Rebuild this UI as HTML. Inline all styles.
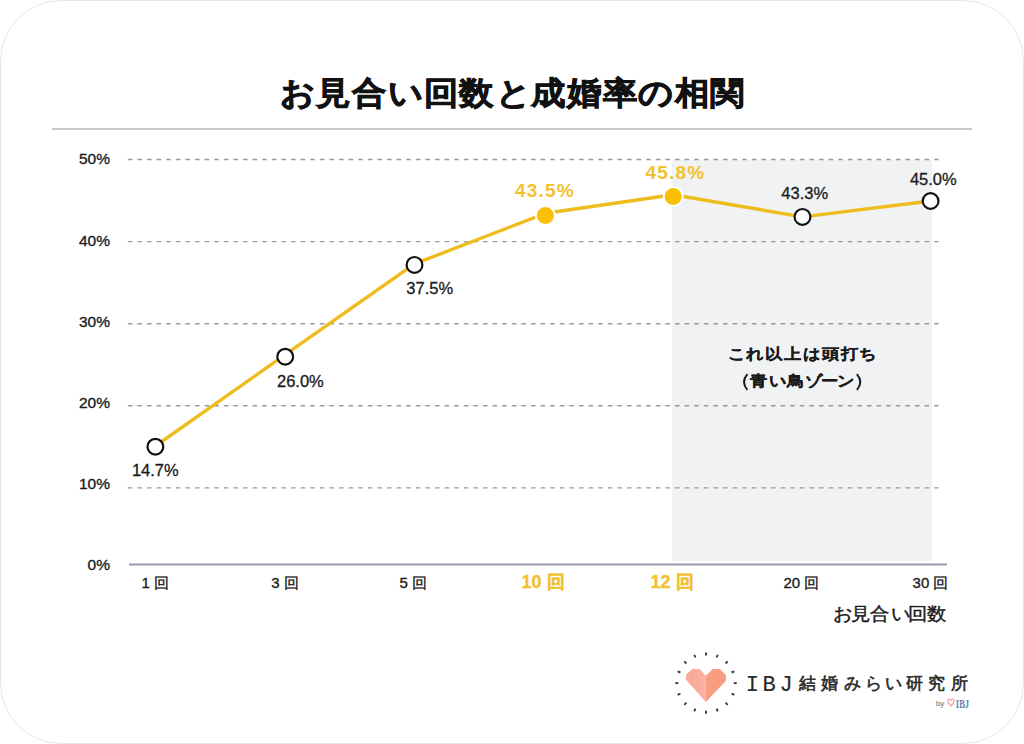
<!DOCTYPE html>
<html lang="ja">
<head>
<meta charset="utf-8">
<style>
html,body{margin:0;padding:0;background:#fff;}
body{width:1024px;height:744px;position:relative;overflow:hidden;font-family:"Liberation Sans",sans-serif;color:#222;}
.card{position:absolute;left:0;top:0;width:1022px;height:742px;border:1px solid #e6e6e6;border-radius:61px;background:#fff;}
svg{position:absolute;left:0;top:0;}
.t{position:absolute;white-space:nowrap;}
</style>
</head>
<body>
<div class="card"></div>
<svg width="1024" height="744" viewBox="0 0 1024 744">
  <!-- separator -->
  <line x1="52" y1="129" x2="972" y2="129" stroke="#c8c8d1" stroke-width="2"/>
  <!-- shaded zone -->
  <rect x="672" y="160" width="260" height="401" fill="#f1f2f4"/>
  <!-- grid lines -->
  <g stroke="#999" stroke-width="1.4" stroke-dasharray="4.6 5">
    <line x1="127.8" y1="159.5" x2="938.5" y2="159.5"/>
    <line x1="127.8" y1="241.6" x2="938.5" y2="241.6"/>
    <line x1="127.8" y1="323.7" x2="938.5" y2="323.7"/>
    <line x1="127.8" y1="405.8" x2="938.5" y2="405.8"/>
    <line x1="127.8" y1="487.9" x2="938.5" y2="487.9"/>
  </g>
  <!-- axis -->
  <line x1="129" y1="564.5" x2="947" y2="564.5" stroke="#9a9aab" stroke-width="2"/>
  <!-- data line -->
  <polyline points="155.4,446 285.2,354.7 414.5,263.9 545.4,213.3 673.2,194.8 802.5,216.9 930.6,201" fill="none" stroke="#efbc1e" stroke-width="3.4" stroke-linejoin="round"/>
  <!-- markers -->
  <g fill="#fff" stroke="#111" stroke-width="2.2">
    <circle cx="155.4" cy="446.7" r="7.9"/>
    <circle cx="285.2" cy="356.7" r="7.9"/>
    <circle cx="414.5" cy="264.9" r="7.9"/>
    <circle cx="802.5" cy="216.9" r="7.9"/>
    <circle cx="930.6" cy="201" r="7.9"/>
  </g>
  <g fill="#fbbf06" stroke="#fff" stroke-width="2">
    <circle cx="545.4" cy="215.6" r="9.5"/>
    <circle cx="673.2" cy="196.6" r="9.5"/>
  </g>
  <!-- y labels -->
  <g font-family="Liberation Sans, sans-serif" font-size="15.5" fill="#1a1a1a" stroke="#1a1a1a" stroke-width="0.35" text-anchor="end">
    <text x="110" y="164.2">50%</text>
    <text x="110" y="245.5">40%</text>
    <text x="110" y="326.8">30%</text>
    <text x="110" y="408.2">20%</text>
    <text x="110" y="489.3">10%</text>
    <text x="110" y="569.8">0%</text>
  </g>
  <!-- data labels -->
  <g font-family="Liberation Sans, sans-serif" font-size="16.5" fill="#1a1a1a" stroke="#1a1a1a" stroke-width="0.3" text-anchor="middle">
    <text x="155.3" y="476">14.7%</text>
    <text x="300.4" y="387">26.0%</text>
    <text x="429.7" y="293.7">37.5%</text>
    <text x="804.7" y="198.8">43.3%</text>
    <text x="933.3" y="184.6">45.0%</text>
  </g>
  <g font-family="Liberation Sans, sans-serif" font-size="19" font-weight="bold" fill="#f2c12e" text-anchor="middle" letter-spacing="1.2">
    <text x="544.9" y="197">43.5%</text>
    <text x="675.4" y="179.3">45.8%</text>
  </g>
  <!-- x labels -->
  <g font-family="Liberation Sans, sans-serif" font-size="15" fill="#1a1a1a" stroke="#1a1a1a" stroke-width="0.35" text-anchor="middle">
    <text x="155.2" y="588.2">1 回</text>
    <text x="285" y="588.2">3 回</text>
    <text x="413.3" y="588.2">5 回</text>
    <text x="801.4" y="588.2">20 回</text>
    <text x="930.5" y="588.2">30 回</text>
  </g>
  <g font-family="Liberation Sans, sans-serif" font-size="18" font-weight="bold" fill="#f2c12e" stroke="#f2c12e" stroke-width="0.3" text-anchor="middle">
    <text x="543" y="588.4">10 回</text>
    <text x="672" y="588.4">12 回</text>
  </g>
  <text x="841.9 860.5 879.5 900.4 917.5 936.6" y="621" font-family="Liberation Sans, sans-serif" font-size="19" fill="#1a1a1a" stroke="#1a1a1a" stroke-width="0.45" text-anchor="middle" transform="translate(0 614.7) scale(1 0.93) translate(0 -615)">お見合い回数</text>
  <!-- annotation -->
  <g font-family="Liberation Sans, sans-serif" font-size="17" font-weight="bold" fill="#1a1a1a" stroke="#1a1a1a" stroke-width="0.25" text-anchor="middle">
    <text x="736.8 754.1 773.8 793 811.5 830.1 849.2 867.8" y="361.5" transform="translate(0 354.7) scale(1 0.87) translate(0 -356)">これ以上は頭打ち</text>
    <text x="759 777.7 795.2 813.4 829.8 846" y="388.5" transform="translate(0 382) scale(1 0.87) translate(0 -383.5)">青い鳥ゾーン</text>
  </g>
  <path d="M747.4,374.2 Q740.6,382 747.4,389.8 M856.9,374.2 Q863.7,382 856.9,389.8" fill="none" stroke="#1a1a1a" stroke-width="2"/>
  <!-- title -->
  <text x="298 333.2 368.7 405.9 440.7 476.3 513.4 548.1 584.1 620.1 656 691.6 727.5" y="105" font-family="Liberation Sans, sans-serif" font-size="34" font-weight="bold" fill="#111" stroke="#111" stroke-width="0.85" text-anchor="middle" transform="translate(0 93.2) scale(1 0.93) translate(0 -93.2)">お見合い回数と成婚率の相関</text>
  <!-- logo heart -->
  <defs>
    <linearGradient id="hl" x1="686" y1="0" x2="706" y2="0" gradientUnits="userSpaceOnUse"><stop offset="0" stop-color="#f8a796"/><stop offset="1" stop-color="#fab3a2"/></linearGradient>
    <linearGradient id="hr" x1="706" y1="0" x2="726" y2="0" gradientUnits="userSpaceOnUse"><stop offset="0" stop-color="#f99d83"/><stop offset="1" stop-color="#f89a80"/></linearGradient>
  </defs>
  <g>
    <polygon points="705.8,675.7 699.7,669 692.2,669 686.1,674.7 686.1,679.8 705.8,701.9" fill="url(#hl)"/>
    <polygon points="705.8,675.7 712.8,669 719.9,669 725.9,675.2 725.9,680.8 705.8,701.9" fill="url(#hr)"/>
  </g>
  <g stroke="#3a3a3a" stroke-width="1.9"><line x1="706.00" y1="655.40" x2="706.00" y2="652.40"/><line x1="716.60" y1="657.51" x2="717.75" y2="654.74"/><line x1="725.59" y1="663.51" x2="727.71" y2="661.39"/><line x1="731.59" y1="672.50" x2="734.36" y2="671.35"/><line x1="733.70" y1="683.10" x2="736.70" y2="683.10"/><line x1="731.59" y1="693.70" x2="734.36" y2="694.85"/><line x1="725.59" y1="702.69" x2="727.71" y2="704.81"/><line x1="716.60" y1="708.69" x2="717.75" y2="711.46"/><line x1="706.00" y1="710.80" x2="706.00" y2="713.80"/><line x1="695.40" y1="708.69" x2="694.25" y2="711.46"/><line x1="686.41" y1="702.69" x2="684.29" y2="704.81"/><line x1="680.41" y1="693.70" x2="677.64" y2="694.85"/><line x1="678.30" y1="683.10" x2="675.30" y2="683.10"/><line x1="680.41" y1="672.50" x2="677.64" y2="671.35"/><line x1="686.41" y1="663.51" x2="684.29" y2="661.39"/><line x1="695.40" y1="657.51" x2="694.25" y2="654.74"/></g>
  <text x="752.4 769.2 786.2" y="691" font-family="Liberation Mono, monospace" font-size="22" fill="#2a2a2a" stroke="#2a2a2a" stroke-width="0.15" text-anchor="middle">IBJ</text>
  <text x="807 829.5 852.5 873.3 893.1 914.3 936.9 959.4" y="689" font-family="Liberation Sans, sans-serif" font-size="17" fill="#2a2a2a" stroke="#2a2a2a" stroke-width="0.6" text-anchor="middle">結婚みらい研究所</text>
  <text x="936" y="705.6" font-family="Liberation Sans, sans-serif" font-size="7.8" fill="#8a8a8a" stroke="#8a8a8a" stroke-width="0.2">by</text>
  <path d="M951,706 C947,702.5 947.2,699 949.2,699 C950.2,699 950.8,699.8 951,700.6 C951.2,699.8 951.8,699 952.8,699 C954.8,699 955,702.5 951,706 Z" fill="none" stroke="#e99aa5" stroke-width="1.1"/>
  <text x="955.8" y="707.6" font-family="Liberation Serif, serif" font-size="13" font-weight="bold" fill="#5585bb" transform="translate(955.8 0) scale(0.66 1) translate(-955.8 0)">IBJ</text>
</svg>
</body>
</html>
